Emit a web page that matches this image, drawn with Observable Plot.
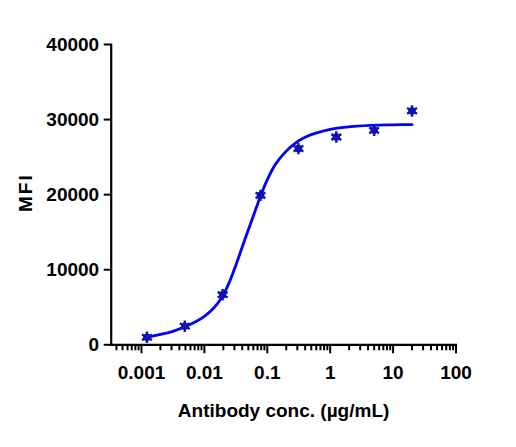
<!DOCTYPE html>
<html>
<head>
<meta charset="utf-8">
<script src="https://cdn.jsdelivr.net/npm/d3@7"></script>
<script src="https://cdn.jsdelivr.net/npm/@observablehq/plot@0.6"></script>
<style>
  html, body { margin: 0; padding: 0; background: #fff; }
</style>
</head>
<body>
<div id="chart"></div>
<script>
// Measured points (4-fold dilution series)
const conc = [0.00122, 0.00488, 0.0195, 0.078, 0.3125, 1.25, 5, 20];
const mfi = [1000, 2480, 6670, 19900, 26130, 27680, 28570, 31150];

// Fitted curve
const fitConc = [0.00122, 0.00178, 0.00316, 0.00488, 0.0075, 0.01, 0.0141, 0.0195, 0.0251, 0.0316, 0.0447, 0.0562, 0.078, 0.1, 0.136, 0.2, 0.283, 0.398, 0.59, 1, 1.77, 4.4, 10, 20];
const fitMfi = [980, 1300, 1800, 2400, 3150, 3800, 4900, 6500, 8400, 10600, 14200, 16500, 19800, 22000, 24100, 25800, 26900, 27650, 28200, 28700, 29000, 29230, 29300, 29330];

// Axis ticks
const xMajorTicks = [0.001, 0.01, 0.1, 1, 10, 100];
const yTicks = [0, 10000, 20000, 30000, 40000];
const xLabel = "Antibody conc. (µg/mL)";
const yLabel = "MFI";

const xDomain = [0.00033, 100];
const xMinorTicks = [];
for (const decade of [0.0001, 0.001, 0.01, 0.1, 1, 10]) {
  for (let k = 2; k <= 9; k++) {
    const v = +(decade * k).toPrecision(3);
    if (v >= xDomain[0] && v <= xDomain[1]) xMinorTicks.push(v);
  }
}

const points = conc.map((c, i) => ({c, v: mfi[i]}));
const fit = fitConc.map((c, i) => ({c, v: fitMfi[i]}));

const chart = Plot.plot({
  width: 516,
  height: 447,
  marginLeft: 110.7,
  marginRight: 60.5,
  marginTop: 44,
  marginBottom: 102.7,
  style: {
    fontFamily: "'Liberation Sans', Arial, sans-serif",
    fontWeight: "bold",
    fontSize: "19px",
    color: "#000",
    background: "#fff"
  },
  x: {type: "log", domain: xDomain},
  y: {domain: [0, 40000]},
  marks: [
    Plot.axisY({ticks: yTicks, tickSize: 7, tickPadding: 5, strokeWidth: 2, tickFormat: d => String(d), label: null, fontSize: 19}),
    Plot.axisX({ticks: xMinorTicks, tickSize: 6, strokeWidth: 2, text: null, label: null}),
    Plot.axisX({ticks: xMajorTicks, tickSize: 9, tickPadding: 12, strokeWidth: 2, tickFormat: d => String(d), label: null, fontSize: 19}),
    Plot.frame({anchor: "left", strokeWidth: 2.2, stroke: "#000"}),
    Plot.frame({anchor: "bottom", strokeWidth: 2.2, stroke: "#000"}),
    Plot.line(fit, {x: "c", y: "v", stroke: "#0000ff", strokeWidth: 2.8, curve: "catmull-rom"}),
    Plot.dot(points, {x: "c", y: "v", r: 3.8, fill: "#1212b4", stroke: "none"}),
    Plot.dot(points, {x: "c", y: "v", r: 5.4, symbol: "asterisk", stroke: "#1212b4", strokeWidth: 2.4}),
    Plot.text([xLabel], {frameAnchor: "bottom", dy: 72, lineAnchor: "bottom", textAnchor: "middle", fontSize: 19, fontWeight: "bold", fill: "#000"}),
    Plot.text([yLabel], {frameAnchor: "left", dx: -79, dy: -2, rotate: -90, textAnchor: "middle", lineAnchor: "bottom", fontSize: 19, fontWeight: "bold", fill: "#000", className: "ylab"})
  ]
});

d3.select(chart).selectAll(".ylab text").style("letter-spacing", "2px");
document.getElementById("chart").appendChild(chart);
</script>
</body>
</html>
